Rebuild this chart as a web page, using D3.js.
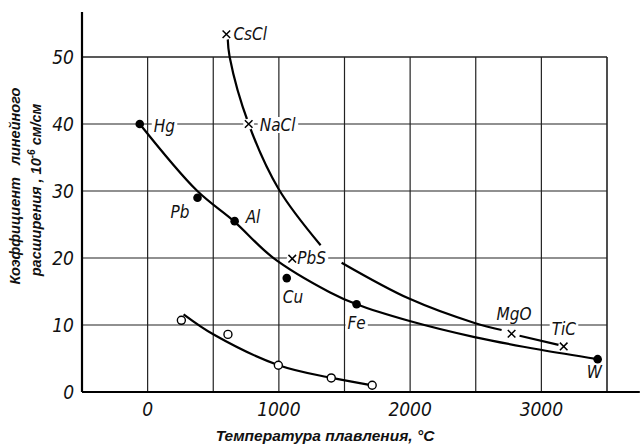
<!DOCTYPE html>
<html>
<head>
<meta charset="utf-8">
<script src="https://cdn.jsdelivr.net/npm/d3@7"></script>
<style>
    body { margin: 0; background: #fff; }
    svg { display: block; }
    .tick-num { font-family: "Liberation Sans Narrow", "DejaVu Sans Condensed", sans-serif; font-style: italic; font-size: 19px; fill: #111; }
    .lbl { font-family: "Liberation Sans Narrow", "DejaVu Sans Condensed", sans-serif; font-style: italic; font-size: 17px; fill: #111; }
    .title { font-family: "Liberation Sans", Arial, sans-serif; font-style: italic; font-weight: bold; font-size: 14.5px; fill: #111; }
</style>
</head>
<body>
<div id="chart"></div>
<script>
var width = 640;
var height = 448;

// melting point (C) vs linear expansion coefficient (1e-6 cm/cm)
var metalNames = ["Hg", "Pb", "Al", "Cu", "Fe", "W"];
var metalT = [-60, 380, 663, 1060, 1592, 3429];
var metalK = [40, 29, 25.5, 17, 13.1, 4.9];

var ionicNames = ["CsCl", "NaCl", "PbS", "MgO", "TiC"];
var ionicT = [600, 770, 1102, 2773, 3170];
var ionicK = [53.4, 40, 19.9, 8.7, 6.8];

var openT = [257, 612, 996, 1399, 1711];
var openK = [10.7, 8.6, 4.0, 2.1, 1.0];

// hand drawn curves
var metalCurve = [[-60, 40], [373, 30.1], [663, 25.4], [952, 20.1], [1387, 14.9], [1592, 13.1], [1996, 10.6], [2491, 8.2], [2994, 6.3], [3429, 4.9]];
var ionicCurve1 = [[610, 52.8], [625, 50], [770, 40], [998, 30.3], [1318, 21.9]];
var ionicCurve2 = [[1478, 19.3], [1996, 13.9], [2491, 10.3], [2697, 9.25]];
var ionicSegment = [[2834, 8.4], [3139, 7.0]];
var openCurve = [[274, 11.6], [510, 8.5], [998, 4.0], [1402, 2.1], [1711, 1.0]];

var xTicks = [0, 1000, 2000, 3000];
var yTicks = [0, 10, 20, 30, 40, 50];
var xGrid = [0, 500, 1000, 1500, 2000, 2500, 3000, 3500];
var yGrid = [10, 20, 30, 40, 50];

// label offsets in px from the marker (dx, dy, anchor)
var labelPos = {
    "Hg": [14, 8, "start"], "Pb": [-8, 20, "end"], "Al": [11, 2, "start"],
    "Cu": [-4, 25, "start"], "Fe": [-9, 25, "start"], "W": [-11, 19, "start"],
    "CsCl": [7, 6, "start"], "NaCl": [11, 7, "start"], "PbS": [5, 5, "start"],
    "MgO": [-15, -14, "start"], "TiC": [-12, -11, "start"]
};

var x = d3.scaleLinear().domain([-500, 3500]).range([82, 607]);
var y = d3.scaleLinear().domain([0, 50]).range([392, 57]);

var svg = d3.select("#chart").append("svg")
    .attr("width", width)
    .attr("height", height);

// grid
svg.append("g").selectAll("line")
    .data(xGrid)
    .enter().append("line")
    .attr("x1", function(d) { return x(d); })
    .attr("x2", function(d) { return x(d); })
    .attr("y1", y(0))
    .attr("y2", y(50))
    .attr("stroke", "#222")
    .attr("stroke-width", function(d) { return d == 3500 ? 1.6 : 1.2; });

svg.append("g").selectAll("line")
    .data(yGrid)
    .enter().append("line")
    .attr("x1", x(-500))
    .attr("x2", x(3500))
    .attr("y1", function(d) { return y(d); })
    .attr("y2", function(d) { return y(d); })
    .attr("stroke", "#222")
    .attr("stroke-width", function(d) { return d == 50 ? 1.6 : 1.2; });

// axes
svg.append("line")
    .attr("x1", x(-500)).attr("x2", x(-500))
    .attr("y1", y(0)).attr("y2", y(56.7))
    .attr("stroke", "#000").attr("stroke-width", 2.2);
svg.append("line")
    .attr("x1", x(-500)).attr("x2", x(3750))
    .attr("y1", y(0)).attr("y2", y(0))
    .attr("stroke", "#000").attr("stroke-width", 2.2);

svg.append("g").selectAll("text")
    .data(yTicks)
    .enter().append("text")
    .attr("class", "tick-num")
    .attr("x", x(-500) - 8)
    .attr("y", function(d) { return y(d); })
    .attr("dy", "0.36em")
    .attr("text-anchor", "end")
    .text(function(d) { return d; });

svg.append("g").selectAll("text")
    .data(xTicks)
    .enter().append("text")
    .attr("class", "tick-num")
    .attr("x", function(d) { return x(d); })
    .attr("y", y(0) + 24)
    .attr("text-anchor", "middle")
    .text(function(d) { return d; });

// axis titles
svg.append("text")
    .attr("class", "title")
    .style("font-size", "15.5px")
    .attr("x", 325)
    .attr("y", 441)
    .attr("text-anchor", "middle")
    .text("Температура плавления, °C");

var yt = svg.append("g").attr("transform", "translate(20,186) rotate(-90)");
yt.append("text")
    .attr("class", "title")
    .attr("text-anchor", "middle")
    .attr("xml:space", "preserve")
    .text("Коэффициент   линейного");
var yt2 = yt.append("text")
    .attr("class", "title")
    .attr("y", 21)
    .attr("x", -4)
    .attr("text-anchor", "middle");
yt2.append("tspan").text("расширения , 10");
yt2.append("tspan").attr("dy", -6).style("font-size", "10px").text("-6");
yt2.append("tspan").attr("dy", 6).text(" см/см");

// curves
var line = d3.line()
    .x(function(d) { return x(d[0]); })
    .y(function(d) { return y(d[1]); })
    .curve(d3.curveCatmullRom.alpha(0.5));

[metalCurve, ionicCurve1, ionicCurve2, openCurve].forEach(function(c) {
    svg.append("path")
        .attr("d", line(c))
        .attr("fill", "none")
        .attr("stroke", "#000")
        .attr("stroke-width", 2.2);
});
svg.append("path")
    .attr("d", d3.line().x(function(d) { return x(d[0]); }).y(function(d) { return y(d[1]); })(ionicSegment))
    .attr("fill", "none")
    .attr("stroke", "#000")
    .attr("stroke-width", 2.2);

// labels (white box to break grid lines like the original)
function addLabel(name, px, py) {
    var p = labelPos[name];
    var t = svg.append("text")
        .attr("class", "lbl")
        .attr("x", px + p[0])
        .attr("y", py + p[1])
        .attr("text-anchor", p[2])
        .text(name);
    var bb = t.node().getBBox();
    svg.insert("rect", function() { return t.node(); })
        .attr("x", bb.x - 2).attr("y", bb.y + 2)
        .attr("width", bb.width + 4).attr("height", bb.height - 4)
        .attr("fill", "#fff");
}

metalNames.forEach(function(n, i) { addLabel(n, x(metalT[i]), y(metalK[i])); });
ionicNames.forEach(function(n, i) { addLabel(n, x(ionicT[i]), y(ionicK[i])); });

// markers
svg.append("g").selectAll("circle")
    .data(metalT)
    .enter().append("circle")
    .attr("cx", function(d) { return x(d); })
    .attr("cy", function(d, i) { return y(metalK[i]); })
    .attr("r", 4.3)
    .attr("fill", "#000");

svg.append("g").selectAll("circle")
    .data(openT)
    .enter().append("circle")
    .attr("cx", function(d) { return x(d); })
    .attr("cy", function(d, i) { return y(openK[i]); })
    .attr("r", 4)
    .attr("fill", "#fff")
    .attr("stroke", "#000")
    .attr("stroke-width", 1.4);

var cross = svg.append("g").selectAll("g")
    .data(ionicT)
    .enter().append("g")
    .attr("transform", function(d, i) { return "translate(" + x(d) + "," + y(ionicK[i]) + ")"; });
cross.append("circle").attr("r", 5.5).attr("fill", "#fff");
cross.append("path")
    .attr("d", "M-3.8,-3.8L3.8,3.8M-3.8,3.8L3.8,-3.8")
    .attr("stroke", "#000")
    .attr("stroke-width", 1.5);
</script>
</body>
</html>
